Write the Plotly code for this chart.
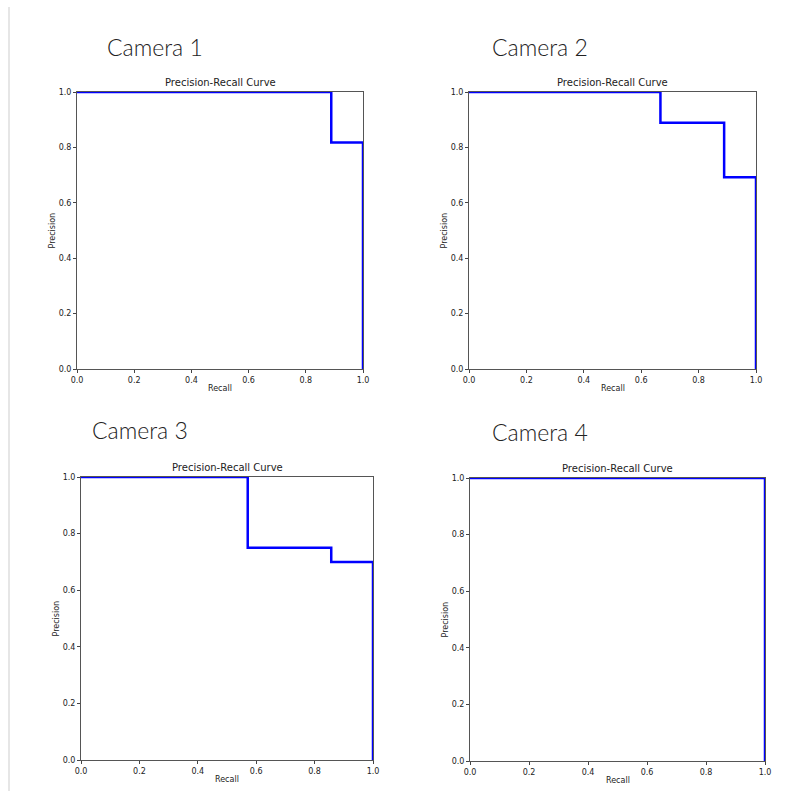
import plotly.graph_objects as go

# Precision-recall step points for each camera
cameras = ["Camera 1", "Camera 2", "Camera 3", "Camera 4"]
recall_cam1 = [0.0, 0.889, 1.0]
precision_cam1 = [1.0, 0.818, 0.0]
recall_cam2 = [0.0, 0.667, 0.889, 1.0]
precision_cam2 = [1.0, 0.889, 0.692, 0.0]
recall_cam3 = [0.0, 0.571, 0.857, 1.0]
precision_cam3 = [1.0, 0.75, 0.70, 0.0]
recall_cam4 = [0.0, 1.0]
precision_cam4 = [1.0, 0.0]
tick_values = [0.0, 0.2, 0.4, 0.6, 0.8, 1.0]

W, H = 788, 791
recalls = [recall_cam1, recall_cam2, recall_cam3, recall_cam4]
precisions = [precision_cam1, precision_cam2, precision_cam3, precision_cam4]

# Plot-area boxes in pixels: (left, right, top, bottom)
boxes = [(77, 363, 92, 369), (469, 756, 92, 369),
         (81, 373, 477, 760), (470, 765, 478, 761)]
# Heading positions (left x, center y) in pixels
heading_pos = [(105, 47), (490, 47), (90, 430), (490, 432)]


def px(x):
    return x / W


def py(y):
    return 1 - y / H


fig = go.Figure()
tick_font = dict(family="DejaVu Sans", size=8, color="#222")
annotations = []

for i in range(4):
    l, r, t, b = boxes[i]
    sfx = "" if i == 0 else str(i + 1)
    fig.add_trace(go.Scatter(
        x=recalls[i], y=precisions[i], mode="lines",
        line=dict(color="#0000ff", width=2.5, shape="hv"),
        xaxis="x" + sfx, yaxis="y" + sfx, showlegend=False,
        hoverinfo="skip",
    ))
    axis_common = dict(
        range=[0, 1], tickvals=tick_values, tickformat=".1f",
        ticks="outside", ticklen=3, tickwidth=1, tickcolor="#444",
        showline=True, linecolor="#555", linewidth=1, mirror=True,
        showgrid=False, zeroline=False, tickfont=tick_font, fixedrange=True,
        layer="below traces", automargin=False,
    )
    fig.update_layout(**{
        "xaxis" + sfx: dict(domain=[px(l), px(r)], anchor="y" + sfx, **axis_common),
        "yaxis" + sfx: dict(domain=[py(b), py(t)], anchor="x" + sfx, **axis_common),
    })
    cx = (l + r) / 2
    # subplot title
    annotations.append(dict(
        x=px(cx), y=py(t - 2), xref="paper", yref="paper",
        text="Precision-Recall Curve", showarrow=False,
        xanchor="center", yanchor="bottom",
        font=dict(family="DejaVu Sans", size=10, color="#222"),
    ))
    # x-axis title
    annotations.append(dict(
        x=px(cx), y=py(b + 13), xref="paper", yref="paper",
        text="Recall", showarrow=False, xanchor="center", yanchor="top",
        font=dict(family="DejaVu Sans", size=8, color="#222"),
    ))
    # y-axis title
    annotations.append(dict(
        x=px(l - 25), y=py((t + b) / 2), xref="paper", yref="paper",
        text="Precision", showarrow=False, textangle=-90,
        xanchor="center", yanchor="middle",
        font=dict(family="DejaVu Sans", size=8, color="#222"),
    ))
    # camera heading
    hx, hy = heading_pos[i]
    annotations.append(dict(
        x=px(hx), y=py(hy), xref="paper", yref="paper",
        text=cameras[i], showarrow=False, xanchor="left", yanchor="middle",
        font=dict(family="Lato", size=23, color="#222", weight=300),
    ))

fig.update_layout(
    width=W, height=H,
    margin=dict(l=0, r=0, t=0, b=0, autoexpand=False),
    paper_bgcolor="white", plot_bgcolor="white",
    annotations=annotations,
    shapes=[dict(type="line", xref="paper", yref="paper",
                 x0=px(9), x1=px(9), y0=py(7), y1=0,
                 line=dict(color="#e6e6e6", width=2))],
)

fig.write_html("out.html", post_script="document.body.style.margin='0';")
